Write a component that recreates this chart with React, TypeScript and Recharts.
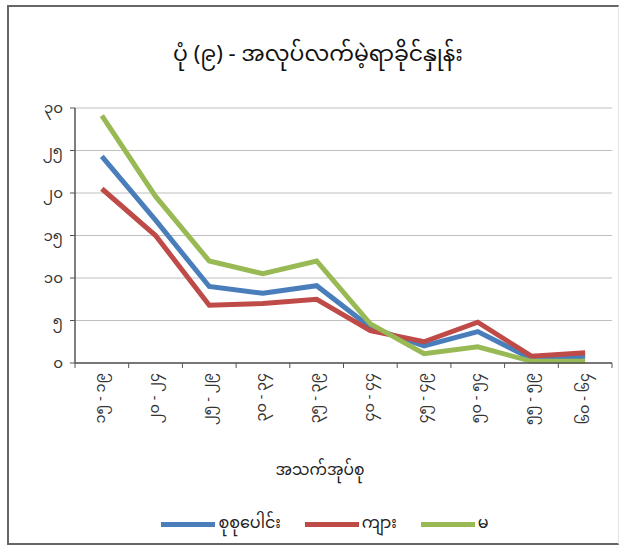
import { CartesianGrid, Line, LineChart, XAxis, YAxis } from "recharts";

const ageGroups = ["၁၅ - ၁၉", "၂၀ - ၂၄", "၂၅ - ၂၉", "၃၀ - ၃၄", "၃၅ - ၃၉", "၄၀ - ၄၄", "၄၅ - ၄၉", "၅၀ - ၅၄", "၅၅ - ၅၉", "၆၀ - ၆၄"];
const total = [24.3, 16.8, 9.0, 8.2, 9.1, 4.2, 2.0, 3.7, 0.5, 0.8];
const male = [20.5, 15.0, 6.8, 7.0, 7.5, 3.8, 2.5, 4.8, 0.8, 1.2];
const female = [29.1, 19.6, 12.0, 10.5, 12.0, 4.6, 1.1, 1.9, 0.2, 0.2];
const yTicks = [0, 5, 10, 15, 20, 25, 30];
const yTickLabels = ["၀", "၅", "၁၀", "၁၅", "၂၀", "၂၅", "၃၀"];

const series = [
  { key: "total", name: "စုစုပေါင်း", color: "#4A7EBB" },
  { key: "male", name: "ကျား", color: "#BE4B48" },
  { key: "female", name: "မ", color: "#98B954" },
];

const data = ageGroups.map((name, i) => ({ x: i + 0.5, name, total: total[i], male: male[i], female: female[i] }));
const xTicks = Array.from({ length: ageGroups.length * 2 + 1 }, (_, i) => i / 2);

const font = "'Noto Sans Myanmar', Padauk, 'Myanmar Text', 'Noto Sans', sans-serif";

function XTick({ x, y, payload }: any) {
  const v = payload.value as number;
  if (Number.isInteger(v)) {
    return <line x1={x} x2={x} y1={y - 8} y2={y - 3} stroke="#555" strokeWidth={1} />;
  }
  const label = ageGroups[Math.floor(v)];
  return (
    <text x={0} y={0} transform={`translate(${x},${y + 2}) rotate(-90)`} textAnchor="end" dominantBaseline="central" fontSize={14.5} fill="#333" fontFamily={font}>
      {label}
    </text>
  );
}

function LegendRow() {
  return (
    <div style={{ position: "absolute", left: 0, top: 507, width: 650, display: "flex", justifyContent: "center", gap: 24, fontSize: 16, color: "#222" }}>
      {series.map((s) => (
        <div key={s.key} style={{ display: "flex", alignItems: "center" }}>
          <span style={{ display: "inline-block", width: 54, height: 5, background: s.color, marginRight: 3 }} />
          <span>{s.name}</span>
        </div>
      ))}
    </div>
  );
}

export default function App() {
  return (
    <div style={{ position: "absolute", left: 0, top: 0, width: 624, height: 546, background: "#fff", overflow: "hidden", fontFamily: font }}>
      <div style={{ position: "absolute", left: 7, top: 5, width: 609, height: 536, borderLeft: "2px solid #666", borderTop: "2px solid #666", borderBottom: "2px solid #666", borderRight: "1px solid #e4e4e4" }} />
      <div style={{ position: "absolute", left: 0, top: 32, width: 636, textAlign: "center", fontSize: 22, color: "#111" }}>
        ပုံ (၉) - အလုပ်လက်မဲ့ရာခိုင်နှုန်း
      </div>
      <div style={{ position: "absolute", left: 0, top: 454, width: 640, textAlign: "center", fontSize: 15.5, color: "#222" }}>
        အသက်အုပ်စု
      </div>
      <LineChart width={624} height={546} data={data} margin={{ top: 108, right: 12, bottom: 113, left: 0 }} style={{ position: "absolute", left: 0, top: 0 }}>
        <CartesianGrid vertical={false} stroke="#bfbfbf" />
        <XAxis
          dataKey="x"
          type="number"
          domain={[0, ageGroups.length]}
          ticks={xTicks}
          interval={0}
          tickLine={false}
          axisLine={{ stroke: "#555", strokeWidth: 1.5 }}
          tick={<XTick />}
          height={70}
        />
        <YAxis
          domain={[0, 30]}
          ticks={yTicks}
          interval={0}
          width={75}
          tickFormatter={(v: number) => yTickLabels[yTicks.indexOf(v)]}
          tick={{ fontSize: 15, fill: "#333", fontFamily: font }}
          tickSize={5}
          tickMargin={7}
          tickLine={{ stroke: "#555" }}
          axisLine={{ stroke: "#555", strokeWidth: 1.5 }}
        />
        {series.map((s) => (
          <Line key={s.key} dataKey={s.key} name={s.name} stroke={s.color} strokeWidth={5} dot={false} type="linear" isAnimationActive={false} />
        ))}
      </LineChart>
      <LegendRow />
    </div>
  );
}
